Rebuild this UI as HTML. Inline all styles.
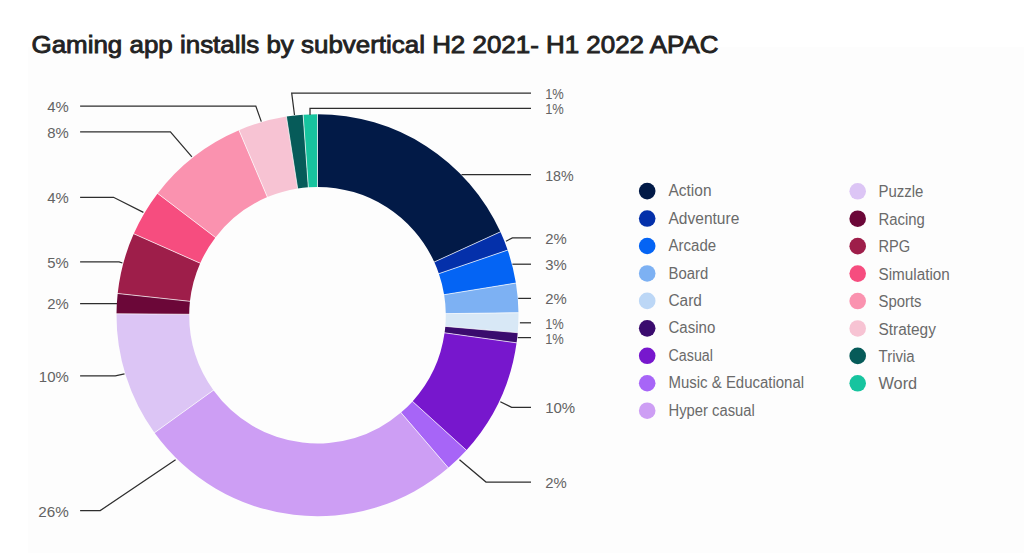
<!DOCTYPE html>
<html><head><meta charset="utf-8"><title>Gaming app installs by subvertical</title><style>
html,body{margin:0;padding:0;background:#fff;}
body{width:1024px;height:553px;overflow:hidden;position:relative;}
svg{position:absolute;left:0;top:0;display:block;}
.t{font-family:"Liberation Sans",sans-serif;}
</style></head><body>
<svg width="1024" height="553" viewBox="0 0 1024 553">
<rect x="0" y="0" width="1024" height="553" fill="#ffffff"/>
<rect x="28" y="47" width="996" height="506" fill="#fdfdfd"/>
<text class="t" x="31.5" y="52.7" font-size="23.5" fill="#222222" stroke="#222222" stroke-width="0.85" textLength="687" lengthAdjust="spacingAndGlyphs">Gaming app installs by subvertical H2 2021- H1 2022 APAC</text>
<g><path d="M317.50,114.20 A201.0,201.0 0 0 1 500.40,231.85 L434.25,261.99 A128.3,128.3 0 0 0 317.50,186.90 Z" fill="#021a47"/><path d="M500.40,231.85 A201.0,201.0 0 0 1 507.66,250.09 L438.88,273.64 A128.3,128.3 0 0 0 434.25,261.99 Z" fill="#0430aa"/><path d="M507.66,250.09 A201.0,201.0 0 0 1 515.91,283.06 L444.15,294.69 A128.3,128.3 0 0 0 438.88,273.64 Z" fill="#0464f4"/><path d="M515.91,283.06 A201.0,201.0 0 0 1 518.48,312.74 L445.79,313.63 A128.3,128.3 0 0 0 444.15,294.69 Z" fill="#7db1f3"/><path d="M518.48,312.74 A201.0,201.0 0 0 1 517.74,332.72 L445.31,326.38 A128.3,128.3 0 0 0 445.79,313.63 Z" fill="#d8e8f6"/><path d="M517.74,332.72 A201.0,201.0 0 0 1 516.59,342.83 L444.58,332.83 A128.3,128.3 0 0 0 445.31,326.38 Z" fill="#3a0b6e"/><path d="M516.59,342.83 A201.0,201.0 0 0 1 466.40,450.22 L412.55,401.38 A128.3,128.3 0 0 0 444.58,332.83 Z" fill="#7717cd"/><path d="M466.40,450.22 A201.0,201.0 0 0 1 448.31,467.81 L400.99,412.61 A128.3,128.3 0 0 0 412.55,401.38 Z" fill="#a765f7"/><path d="M448.31,467.81 A201.0,201.0 0 0 1 154.48,432.78 L213.44,390.25 A128.3,128.3 0 0 0 400.99,412.61 Z" fill="#cd9ef4"/><path d="M154.48,432.78 A201.0,201.0 0 0 1 116.50,313.80 L189.20,314.30 A128.3,128.3 0 0 0 213.44,390.25 Z" fill="#dcc5f5"/><path d="M116.50,313.80 A201.0,201.0 0 0 1 117.68,293.49 L189.95,301.34 A128.3,128.3 0 0 0 189.20,314.30 Z" fill="#6b0738"/><path d="M117.68,293.49 A201.0,201.0 0 0 1 133.73,233.77 L200.20,263.22 A128.3,128.3 0 0 0 189.95,301.34 Z" fill="#9e1e4a"/><path d="M133.73,233.77 A201.0,201.0 0 0 1 157.61,193.40 L215.44,237.45 A128.3,128.3 0 0 0 200.20,263.22 Z" fill="#f64d7f"/><path d="M157.61,193.40 A201.0,201.0 0 0 1 238.96,130.18 L267.37,197.10 A128.3,128.3 0 0 0 215.44,237.45 Z" fill="#fa92af"/><path d="M238.96,130.18 A201.0,201.0 0 0 1 286.40,116.62 L297.65,188.44 A128.3,128.3 0 0 0 267.37,197.10 Z" fill="#f7c3d3"/><path d="M286.40,116.62 A201.0,201.0 0 0 1 303.13,114.71 L308.33,187.23 A128.3,128.3 0 0 0 297.65,188.44 Z" fill="#065b59"/><path d="M303.13,114.71 A201.0,201.0 0 0 1 317.50,114.20 L317.50,186.90 A128.3,128.3 0 0 0 308.33,187.23 Z" fill="#17c49f"/></g>
<g stroke="#ffffff" stroke-width="1" opacity="0.7"><line x1="317.50" y1="187.90" x2="317.50" y2="113.20"/><line x1="433.34" y1="262.41" x2="501.31" y2="231.43"/><line x1="437.94" y1="273.97" x2="508.61" y2="249.77"/><line x1="443.16" y1="294.85" x2="516.90" y2="282.90"/><line x1="444.79" y1="313.64" x2="519.48" y2="312.73"/><line x1="444.32" y1="326.29" x2="518.73" y2="332.81"/><line x1="443.59" y1="332.70" x2="517.58" y2="342.96"/><line x1="411.80" y1="400.71" x2="467.14" y2="450.89"/><line x1="400.34" y1="411.86" x2="448.96" y2="468.57"/><line x1="214.25" y1="389.67" x2="153.67" y2="433.36"/><line x1="190.20" y1="314.31" x2="115.50" y2="313.79"/><line x1="190.94" y1="301.45" x2="116.68" y2="293.38"/><line x1="201.12" y1="263.63" x2="132.82" y2="233.36"/><line x1="216.24" y1="238.06" x2="156.81" y2="192.79"/><line x1="267.76" y1="198.02" x2="238.57" y2="129.26"/><line x1="297.81" y1="189.43" x2="286.25" y2="115.63"/><line x1="308.40" y1="188.23" x2="303.06" y2="113.72"/></g>
<g fill="none" stroke="#2e2e2e" stroke-width="1.25"><polyline points="80.1,106.0 255.8,106.0 261.3,121.6"/><polyline points="80.1,131.8 170.4,131.8 191.9,156.8"/><polyline points="80.1,197.3 113.5,197.3 143.4,212.4"/><polyline points="80.1,261.8 119.1,261.8 122.4,263.0"/><polyline points="80.1,303.5 117.0,303.5"/><polyline points="80.1,375.9 115.3,375.9 124.5,373.8"/><polyline points="80.1,510.6 100.2,510.6 175.6,459.8"/><polyline points="531.0,93.0 291.7,93.0 294.5,115.0"/><polyline points="531.0,108.3 310.0,108.3 310.0,115.0"/><polyline points="531.0,174.6 461.5,174.6"/><polyline points="531.0,237.9 512.4,237.9 506.0,241.2"/><polyline points="531.0,264.2 512.4,264.2"/><polyline points="531.0,298.4 518.2,298.4"/><polyline points="531.0,322.8 519.9,322.8"/><polyline points="531.0,337.6 517.8,337.6"/><polyline points="531.0,407.3 511.6,407.3 500.3,401.7"/><polyline points="531.0,482.0 486.0,482.0 459.5,459.8"/></g>
<g class="t" font-size="15.5" fill="#636363"><text x="68.8" y="111.9" text-anchor="end" textLength="21.5" lengthAdjust="spacingAndGlyphs">4%</text><text x="68.8" y="137.7" text-anchor="end" textLength="21.5" lengthAdjust="spacingAndGlyphs">8%</text><text x="68.8" y="203.2" text-anchor="end" textLength="21.5" lengthAdjust="spacingAndGlyphs">4%</text><text x="68.8" y="267.7" text-anchor="end" textLength="21.5" lengthAdjust="spacingAndGlyphs">5%</text><text x="68.8" y="309.4" text-anchor="end" textLength="21.5" lengthAdjust="spacingAndGlyphs">2%</text><text x="68.8" y="381.8" text-anchor="end" textLength="30.0" lengthAdjust="spacingAndGlyphs">10%</text><text x="68.8" y="516.5" text-anchor="end" textLength="30.5" lengthAdjust="spacingAndGlyphs">26%</text><text x="545.2" y="98.9" textLength="18.6" lengthAdjust="spacingAndGlyphs">1%</text><text x="545.2" y="114.2" textLength="18.6" lengthAdjust="spacingAndGlyphs">1%</text><text x="545.2" y="180.5" textLength="28.5" lengthAdjust="spacingAndGlyphs">18%</text><text x="545.2" y="243.8" textLength="21.5" lengthAdjust="spacingAndGlyphs">2%</text><text x="545.2" y="270.1" textLength="21.5" lengthAdjust="spacingAndGlyphs">3%</text><text x="545.2" y="304.3" textLength="21.5" lengthAdjust="spacingAndGlyphs">2%</text><text x="545.2" y="328.7" textLength="18.6" lengthAdjust="spacingAndGlyphs">1%</text><text x="545.2" y="343.5" textLength="18.6" lengthAdjust="spacingAndGlyphs">1%</text><text x="545.2" y="413.2" textLength="30.0" lengthAdjust="spacingAndGlyphs">10%</text><text x="545.2" y="487.9" textLength="21.5" lengthAdjust="spacingAndGlyphs">2%</text></g>
<g class="t" font-size="15.8" fill="#6a6a6a" ><circle cx="647.2" cy="191.10" r="8.3" fill="#021a47"/><text x="668.5" y="196.20" textLength="43.0" lengthAdjust="spacingAndGlyphs">Action</text><circle cx="647.2" cy="218.55" r="8.3" fill="#0430aa"/><text x="668.5" y="223.65" textLength="70.8" lengthAdjust="spacingAndGlyphs">Adventure</text><circle cx="647.2" cy="246.00" r="8.3" fill="#0464f4"/><text x="668.5" y="251.10" textLength="47.6" lengthAdjust="spacingAndGlyphs">Arcade</text><circle cx="647.2" cy="273.45" r="8.3" fill="#7db1f3"/><text x="668.5" y="278.55" textLength="39.7" lengthAdjust="spacingAndGlyphs">Board</text><circle cx="647.2" cy="300.90" r="8.3" fill="#bcd7f6"/><text x="668.5" y="306.00" textLength="33.4" lengthAdjust="spacingAndGlyphs">Card</text><circle cx="647.2" cy="328.35" r="8.3" fill="#3a0b6e"/><text x="668.5" y="333.45" textLength="46.8" lengthAdjust="spacingAndGlyphs">Casino</text><circle cx="647.2" cy="355.80" r="8.3" fill="#7717cd"/><text x="668.5" y="360.90" textLength="44.5" lengthAdjust="spacingAndGlyphs">Casual</text><circle cx="647.2" cy="383.25" r="8.3" fill="#a765f7"/><text x="668.5" y="388.35" textLength="135.6" lengthAdjust="spacingAndGlyphs">Music &amp; Educational</text><circle cx="647.2" cy="410.70" r="8.3" fill="#cd9ef4"/><text x="668.5" y="415.80" textLength="86.3" lengthAdjust="spacingAndGlyphs">Hyper casual</text><circle cx="857.7" cy="191.30" r="8.3" fill="#dcc5f5"/><text x="878.5" y="197.30" textLength="44.9" lengthAdjust="spacingAndGlyphs">Puzzle</text><circle cx="857.7" cy="218.73" r="8.3" fill="#6b0738"/><text x="878.5" y="224.75" textLength="46.4" lengthAdjust="spacingAndGlyphs">Racing</text><circle cx="857.7" cy="246.16" r="8.3" fill="#9e1e4a"/><text x="878.5" y="252.20" textLength="31.7" lengthAdjust="spacingAndGlyphs">RPG</text><circle cx="857.7" cy="273.59" r="8.3" fill="#f64d7f"/><text x="878.5" y="279.65" textLength="71.3" lengthAdjust="spacingAndGlyphs">Simulation</text><circle cx="857.7" cy="301.02" r="8.3" fill="#fa92af"/><text x="878.5" y="307.10" textLength="43.0" lengthAdjust="spacingAndGlyphs">Sports</text><circle cx="857.7" cy="328.45" r="8.3" fill="#f7c3d3"/><text x="878.5" y="334.55" textLength="57.4" lengthAdjust="spacingAndGlyphs">Strategy</text><circle cx="857.7" cy="355.88" r="8.3" fill="#065b59"/><text x="878.5" y="362.00" textLength="36.2" lengthAdjust="spacingAndGlyphs">Trivia</text><circle cx="857.7" cy="383.31" r="8.3" fill="#17c49f"/><text x="878.5" y="389.45" textLength="38.7" lengthAdjust="spacingAndGlyphs">Word</text></g>
</svg>
</body></html>
